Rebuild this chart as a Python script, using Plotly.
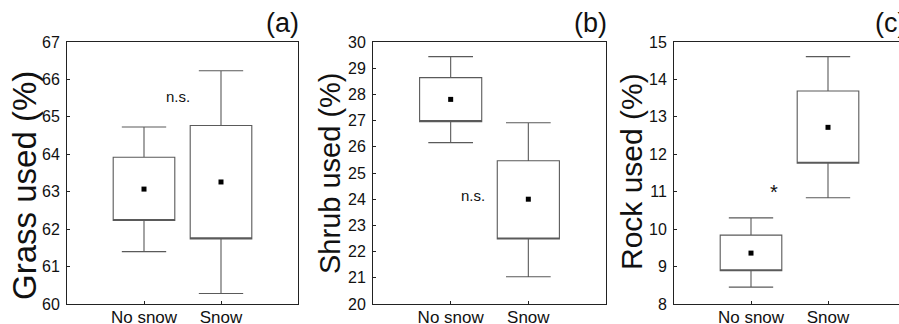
import plotly.graph_objects as go

categories = ["No snow", "Snow"]

# Grass used (%)
grass_mean = [63.07, 63.26]
grass_box_low = [62.23, 61.74]
grass_box_high = [63.92, 64.77]
grass_whisk_low = [61.40, 60.28]
grass_whisk_high = [64.73, 66.23]

# Shrub used (%)
shrub_mean = [27.81, 24.00]
shrub_box_low = [26.96, 22.48]
shrub_box_high = [28.64, 25.47]
shrub_whisk_low = [26.16, 21.04]
shrub_whisk_high = [29.44, 26.92]

# Rock used (%)
rock_mean = [9.36, 12.72]
rock_box_low = [8.89, 11.76]
rock_box_high = [9.84, 13.69]
rock_whisk_low = [8.45, 10.84]
rock_whisk_high = [10.30, 14.61]

panels = [
    dict(mean=grass_mean, lo=grass_box_low, hi=grass_box_high, wl=grass_whisk_low, wh=grass_whisk_high,
         yrange=[60, 67], title="Grass used (%)", tag="(a)", sig="n.s.", sig_x=0.44, sig_y=65.54),
    dict(mean=shrub_mean, lo=shrub_box_low, hi=shrub_box_high, wl=shrub_whisk_low, wh=shrub_whisk_high,
         yrange=[20, 30], title="Shrub used (%)", tag="(b)", sig="n.s.", sig_x=0.29, sig_y=24.16),
    dict(mean=rock_mean, lo=rock_box_low, hi=rock_box_high, wl=rock_whisk_low, wh=rock_whisk_high,
         yrange=[8, 15], title="Rock used (%)", tag="(c)", sig="*", sig_x=0.30, sig_y=11.0),
]

W, H = 899, 324
# pixel layout of the three plot areas
px_left = [67, 373, 674]
px_right = [298, 606, 899]
px_top, px_bottom = 42, 304
xranges = [[-1, 2], [-1, 2], [-1, -1 + (899 - 674) / 77.0]]
title_px = [(24, 186, 33), (330, 173, 29), (631, 172, 30)]
tag_px = [264, 572, 873]

FONT = "Liberation Sans, Arial, sans-serif"
fig = go.Figure()
annotations = []

for i, p in enumerate(panels):
    ax = "" if i == 0 else str(i + 1)
    xa, ya = "x" + ax, "y" + ax
    fig.add_trace(go.Box(
        x=categories,
        q1=p["lo"], q3=p["hi"], median=p["lo"],
        lowerfence=p["wl"], upperfence=p["wh"],
        width=0.8, whiskerwidth=0.72,
        fillcolor="white", line=dict(color="#5a5a5a", width=1.1),
        boxpoints=False, hoverinfo="skip",
        xaxis=xa, yaxis=ya, showlegend=False,
    ))
    fig.add_trace(go.Scatter(
        x=categories, y=p["mean"], mode="markers",
        marker=dict(symbol="square", size=5, color="black"),
        xaxis=xa, yaxis=ya, showlegend=False, hoverinfo="skip",
    ))
    x0, x1 = px_left[i] / W, px_right[i] / W
    y0, y1 = 1 - px_bottom / H, 1 - px_top / H
    fig.layout["xaxis" + ax] = dict(
        domain=[x0, x1], range=xranges[i], type="category", automargin=False,
        showline=True, linecolor="#222222", linewidth=1, mirror=True,
        ticks="inside", ticklen=3, tickcolor="#222222",
        showgrid=False, zeroline=False, anchor=ya, ticklabelstandoff=-2,
        tickfont=dict(family=FONT, size=17, color="#111111"),
    )
    fig.layout["yaxis" + ax] = dict(
        domain=[y0, y1], range=p["yrange"], dtick=1, automargin=False,
        showline=True, linecolor="#222222", linewidth=1, mirror=(i < 2),
        ticks="inside", ticklen=3, tickcolor="#222222",
        showgrid=False, zeroline=False, anchor=xa, ticklabelstandoff=3,
        tickfont=dict(family=FONT, size=16, color="#111111"),
    )
    tx, ty, ts = title_px[i]
    annotations.append(dict(
        text=p["title"], x=tx / W, y=1 - ty / H, xref="paper", yref="paper",
        textangle=-90, showarrow=False, xanchor="center", yanchor="middle",
        font=dict(family=FONT, size=ts, color="#111111"),
    ))
    annotations.append(dict(
        text=p["tag"], x=tag_px[i] / W, y=1 - 23 / H, xref="paper", yref="paper",
        showarrow=False, xanchor="left", yanchor="middle",
        font=dict(family=FONT, size=27, color="#111111"),
    ))
    annotations.append(dict(
        text=p["sig"], x=p["sig_x"], y=p["sig_y"], xref=xa, yref=ya,
        showarrow=False, xanchor="center", yanchor="middle",
        font=dict(family=FONT, size=15 if p["sig"] != "*" else 20, color="#111111"),
    ))

fig.update_layout(
    width=W, height=H, autosize=False,
    margin=dict(l=0, r=0, t=0, b=0, pad=0),
    paper_bgcolor="white", plot_bgcolor="white",
    annotations=annotations, showlegend=False,
)

fig.write_html(
    "out.html",
    config={"displayModeBar": False},
    post_script="document.body.style.margin='0';document.body.style.overflow='hidden';",
)
